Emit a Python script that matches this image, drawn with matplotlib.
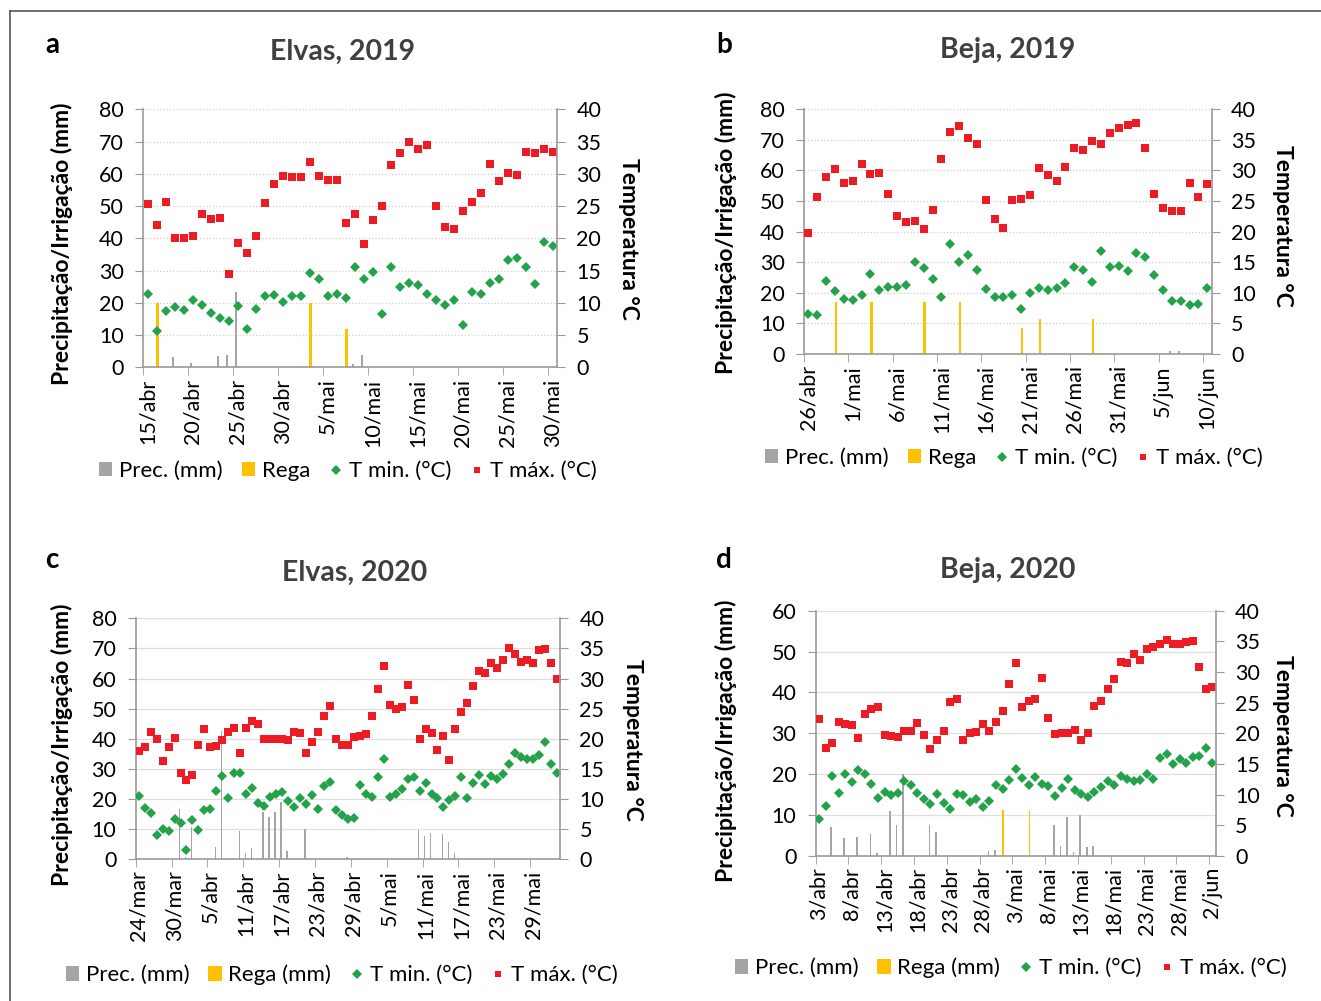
import matplotlib.pyplot as plt
from matplotlib.patches import Patch
from matplotlib.lines import Line2D

plt.rcParams["font.family"] = ["Lato", "DejaVu Sans"]

# ------------------------------------------------------------
# Data
# ------------------------------------------------------------

# --- a: Elvas 2019 (15/abr .. 30/mai)
labels_a = ["15/abr", "20/abr", "25/abr", "30/abr", "5/mai", "10/mai",
            "15/mai", "20/mai", "25/mai", "30/mai"]
tmax_a = [25.3, 22.0, 25.6, 20.1, 20.1, 20.4, 23.7, 23.0, 23.1, 14.4,
          19.2, 17.7, 20.4, 25.5, 28.4, 29.7, 29.5, 29.5, 31.8, 29.7,
          29.1, 29.1, 22.4, 23.7, 19.1, 22.9, 25.0, 31.3, 33.3, 35.0,
          33.9, 34.4, 25.0, 21.8, 21.4, 24.2, 25.7, 27.0, 31.5, 28.9,
          30.2, 29.8, 33.4, 33.2, 33.9, 33.4]
tmin_a = [11.4, 5.7, 8.7, 9.4, 8.9, 10.5, 9.6, 8.4, 7.6, 7.2,
          9.5, 6.0, 9.0, 11.1, 11.2, 10.2, 11.1, 11.1, 14.6, 13.7,
          11.1, 11.3, 10.7, 15.5, 13.7, 14.7, 8.2, 15.5, 12.4, 13.1,
          12.8, 11.4, 10.4, 9.6, 10.4, 6.5, 11.6, 11.3, 13.1, 13.7,
          16.6, 17.0, 15.5, 12.9, 19.5, 18.8]
prec_a = [0, 0, 0, 3.3, 0.3, 1.2, 0, 0, 3.6, 3.9,
          23.4, 0, 0, 0, 0, 0, 0, 0, 0, 0,
          0, 0, 0, 0.9, 3.7, 0, 0, 0, 0, 0,
          0, 0, 0, 0, 0, 0, 0, 0, 0, 0,
          0, 0, 0, 0, 0, 0]
rega_a = [0, 20, 0, 0, 0, 0, 0, 0, 0, 0,
          0, 0, 0, 0, 0, 0, 0, 0, 20, 0,
          0, 0, 12, 0, 0, 0, 0, 0, 0, 0,
          0, 0, 0, 0, 0, 0, 0, 0, 0, 0,
          0, 0, 0, 0, 0, 0]

# --- b: Beja 2019 (26/abr .. 10/jun)
labels_b = ["26/abr", "1/mai", "6/mai", "11/mai", "16/mai", "21/mai",
            "26/mai", "31/mai", "5/jun", "10/jun"]
tmax_b = [19.7, 25.6, 28.9, 30.2, 28.0, 28.2, 31.1, 29.5, 29.6, 26.1,
          22.6, 21.6, 21.8, 20.4, 23.6, 31.9, 36.3, 37.2, 35.3, 34.4,
          25.2, 22.1, 20.6, 25.1, 25.3, 26.0, 30.4, 29.3, 28.3, 30.5,
          33.6, 33.3, 34.8, 34.4, 36.2, 37.0, 37.5, 37.8, 33.6, 26.2,
          23.8, 23.4, 23.4, 28.0, 25.7, 27.8]
tmin_b = [6.5, 6.4, 11.9, 10.3, 9.0, 8.8, 9.7, 13.0, 10.5, 10.9,
          10.9, 11.2, 15.0, 14.1, 12.2, 9.3, 17.9, 15.0, 16.2, 13.8,
          10.6, 9.3, 9.3, 9.7, 7.4, 10.0, 10.8, 10.5, 10.8, 11.6,
          14.2, 13.8, 11.8, 16.8, 14.2, 14.4, 13.6, 16.5, 15.9, 12.9,
          10.4, 8.7, 8.7, 8.0, 8.1, 10.8]
prec_b = [0, 0, 0, 0, 0, 0, 0, 0, 0, 0,
          0, 0, 0.4, 0.4, 0, 0, 0, 0, 0, 0,
          0, 0, 0, 0, 0, 0, 0, 0, 0, 0,
          0, 0, 0, 0, 0, 0, 0, 0, 0, 0,
          0, 0.9, 0.9, 0, 0, 0]
rega_b = [0, 0, 0, 17, 0, 0, 0, 17, 0, 0,
          0, 0, 0, 17, 0, 0, 0, 17, 0, 0,
          0, 0, 0, 0, 8.4, 0, 11.3, 0, 0, 0,
          0, 0, 11.3, 0, 0, 0, 0, 0, 0, 0,
          0, 0, 0, 0, 0, 0]

# --- c: Elvas 2020 (24/mar .. 2/jun)
labels_c = ["24/mar", "30/mar", "5/abr", "11/abr", "17/abr", "23/abr",
            "29/abr", "5/mai", "11/mai", "17/mai", "23/mai", "29/mai"]
tmax_c = [18.0, 18.6, 21.2, 19.9, 16.3, 18.6, 20.2, 14.3, 13.1, 14.0,
          19.0, 21.6, 18.6, 18.8, 19.8, 21.1, 21.8, 17.6, 21.8, 22.9,
          22.5, 20.0, 20.0, 20.0, 19.9, 19.8, 21.2, 20.9, 17.6, 19.4,
          21.2, 23.8, 25.5, 19.9, 18.9, 18.9, 20.3, 20.5, 20.8, 23.8,
          28.3, 32.1, 25.6, 24.9, 25.3, 29.0, 26.5, 20.0, 21.6, 21.0,
          18.1, 20.4, 16.5, 21.7, 24.5, 25.9, 28.7, 31.2, 31.0, 32.5,
          31.7, 33.0, 35.0, 34.1, 32.7, 33.1, 32.5, 34.7, 34.9, 32.5,
          29.9]
tmin_c = [10.5, 8.5, 7.7, 4.1, 5.0, 4.7, 6.7, 6.0, 1.5, 6.6,
          4.8, 8.1, 8.3, 11.4, 13.9, 10.2, 14.4, 14.4, 10.9, 11.8,
          9.4, 8.9, 10.3, 10.8, 11.2, 9.7, 8.7, 10.1, 9.2, 10.6,
          8.4, 12.2, 12.9, 8.2, 7.4, 6.7, 6.9, 12.3, 10.9, 10.3,
          13.7, 16.7, 10.4, 10.9, 11.6, 13.4, 13.7, 11.3, 12.7, 10.9,
          10.1, 8.7, 9.8, 10.5, 13.7, 10.2, 12.6, 14.0, 12.5, 13.9,
          13.3, 14.2, 15.8, 17.6, 17.0, 16.6, 16.7, 17.3, 19.4, 15.8,
          14.3]
prec_c = [0, 0, 0, 0, 0, 0, 0, 16.6, 0.9, 10.8,
          0, 0, 0, 4.2, 42.7, 0.3, 0.3, 9.5, 2.2, 3.8,
          0, 15.8, 14.0, 15.8, 19.1, 2.7, 0, 0, 10.0, 0,
          0, 0, 0, 0, 0, 0.9, 0, 0.3, 0, 0,
          0, 0, 0, 0, 0, 0, 0, 9.7, 7.9, 8.6,
          0, 8.3, 5.6, 2.0, 0, 0, 0, 0, 0, 0,
          0, 0, 0, 0, 0, 0, 0, 0, 0, 0,
          0]
rega_c = [0] * 71

# --- d: Beja 2020 (3/abr .. 2/jun)
labels_d = ["3/abr", "8/abr", "13/abr", "18/abr", "23/abr", "28/abr",
            "3/mai", "8/mai", "13/mai", "18/mai", "23/mai", "28/mai", "2/jun"]
tmax_d = [22.4, 17.6, 18.5, 21.8, 21.5, 21.4, 19.3, 23.2, 24.0, 24.3,
          19.8, 19.5, 19.4, 20.4, 20.4, 21.7, 19.8, 17.4, 18.9, 20.4,
          25.1, 25.6, 18.9, 20.1, 20.2, 21.5, 20.4, 21.8, 23.7, 28.1,
          31.5, 24.3, 25.3, 25.6, 29.1, 22.5, 19.9, 20.1, 20.1, 20.6,
          18.9, 20.1, 24.4, 25.3, 27.2, 28.9, 31.7, 31.5, 33.0, 32.0,
          33.7, 34.0, 34.5, 35.3, 34.6, 34.6, 34.9, 35.1, 30.8, 27.3,
          27.5]
tmin_d = [6.0, 8.2, 13.1, 10.3, 13.4, 12.1, 14.0, 13.3, 11.8, 9.4,
          10.5, 10.0, 10.3, 12.2, 11.5, 10.3, 9.3, 8.4, 10.1, 8.7,
          7.7, 10.1, 9.9, 8.8, 9.3, 8.0, 9.0, 11.5, 10.9, 12.4,
          14.2, 12.8, 11.6, 12.9, 11.8, 11.4, 9.8, 11.1, 12.6, 10.8,
          10.1, 9.7, 10.4, 11.3, 12.3, 11.6, 13.0, 12.5, 12.2, 12.4,
          13.4, 12.6, 15.9, 16.7, 15.0, 15.8, 15.1, 16.2, 16.3, 17.6,
          15.2]
prec_d = [0, 0, 7.0, 0.2, 4.5, 0, 4.6, 0, 5.3, 0.7,
          0, 11.1, 7.7, 20.0, 0, 0, 0, 7.7, 5.8, 0,
          0, 0, 0, 0, 0, 0, 1.3, 1.5, 0, 0,
          0, 0, 0, 0, 0, 0, 7.6, 2.4, 9.5, 1.0,
          10.0, 2.1, 2.4, 0, 0, 0, 0, 0, 0, 0,
          0, 0, 0, 0, 0, 0, 0, 0, 0, 0,
          0]
rega_d = [0] * 28 + [11.2, 0, 0, 0, 11.2] + [0] * 28

# ------------------------------------------------------------
# Style
# ------------------------------------------------------------

W, H = 1321, 1001
GRAY = "#a5a5a5"
GOLD = "#ffc000"
GREEN = "#23a249"
RED = "#ed1c24"
SPINE = "#9a9a9a"
FS = 15.5       # ticks
FS_LEG = 16     # legend
FS_LAB = 16.5   # axis titles


def fx(x):
    return x / W


def fy(y):
    return 1 - y / H


# ------------------------------------------------------------
# One panel: bars on the left axis, temperatures on the right one
# ------------------------------------------------------------

def draw_panel(fig, box, labels, step, prec, rega, tmin, tmax, ymax, dotted):
    left, top, right, bottom = box
    ax = fig.add_axes([fx(left), fy(bottom), (right - left) / W, (bottom - top) / H])
    n = len(tmin)
    days = list(range(n))

    ax.bar([d - 0.17 for d in days], prec, width=0.24, color=GRAY, zorder=2)
    ax.bar([d + 0.1 for d in days], rega, width=0.26, color=GOLD, zorder=2)

    ax.set_xlim(-0.5, n - 0.5)
    ax.set_ylim(0, ymax)
    ax.set_yticks(range(0, ymax + 1, 10))
    ax.grid(axis="y", color="#cfcfcf" if dotted else "#dedede",
            ls=":" if dotted else "-", lw=0.9)
    ax.set_axisbelow(True)

    major = list(range(0, n, step))
    ax.set_xticks(major)
    ax.set_xticklabels(labels[:len(major)], rotation=90)
    ax.set_xticks([m - 0.5 for m in major], minor=True)
    ax.tick_params(axis="x", which="major", length=0, pad=8, labelsize=FS)
    ax.tick_params(axis="x", which="minor", length=6, color=SPINE)
    ax.tick_params(axis="y", length=6, pad=8, color=SPINE, labelsize=FS)

    for s in ["top", "right"]:
        ax.spines[s].set_visible(False)
    for s in ["left", "bottom"]:
        ax.spines[s].set_color(SPINE)
        ax.spines[s].set_linewidth(1.2)

    ax2 = ax.twinx()
    ax2.plot(days, tmin, ls="none", marker="D", ms=5.4, color=GREEN, mew=0)
    ax2.plot(days, tmax, ls="none", marker="s", ms=5.4, color=RED, mew=0)
    ax2.set_ylim(0, 40)
    ax2.set_yticks(range(0, 41, 5))
    ax2.tick_params(axis="y", length=6, pad=8, color=SPINE, labelsize=FS)
    for s in ["top", "left", "bottom"]:
        ax2.spines[s].set_visible(False)
    ax2.spines["right"].set_color(SPINE)
    ax2.spines["right"].set_linewidth(1.2)
    return ax


def add_texts(fig, letter, lpos, title, tpos, ylab_pos, tlab_pos):
    fig.text(fx(lpos[0]), fy(lpos[1]), letter, fontsize=20, fontweight="bold",
             ha="center", va="center")
    fig.text(fx(tpos[0]), fy(tpos[1]), title, fontsize=20.5, fontweight="bold",
             color="#404040", ha="center", va="center")
    fig.text(fx(ylab_pos[0]), fy(ylab_pos[1]), "Precipitação/Irrigação (mm)",
             fontsize=FS_LAB, fontweight="bold", rotation=90, ha="center", va="center")
    fig.text(fx(tlab_pos[0]), fy(tlab_pos[1]), "Temperatura °C",
             fontsize=FS_LAB, fontweight="bold", rotation=-90, ha="center", va="center")


def add_legend(fig, names, center):
    handles = [Patch(facecolor=GRAY), Patch(facecolor=GOLD),
               Line2D([], [], ls="none", marker="D", ms=5, color=GREEN, mew=0),
               Line2D([], [], ls="none", marker="s", ms=4.8, color=RED, mew=0)]
    fig.legend(handles, names, loc="center", bbox_to_anchor=(fx(center[0]), fy(center[1])),
               ncol=4, frameon=False, fontsize=FS_LEG, handlelength=0.6, handleheight=0.6,
               handletextpad=0.3, columnspacing=0.85, borderpad=0)


# ------------------------------------------------------------
# MAIN
# ------------------------------------------------------------

def main():
    fig = plt.figure(figsize=(W / 100, H / 100), dpi=100)

    draw_panel(fig, (143, 109.3, 557, 367.3), labels_a, 5,
               prec_a, rega_a, tmin_a, tmax_a, 80, True)
    draw_panel(fig, (804, 109.3, 1211.7, 354), labels_b, 5,
               prec_b, rega_b, tmin_b, tmax_b, 80, True)
    draw_panel(fig, (135.7, 618.3, 560, 859.3), labels_c, 6,
               prec_c, rega_c, tmin_c, tmax_c, 80, False)
    draw_panel(fig, (815.7, 610.7, 1215.7, 856), labels_d, 5,
               prec_d, rega_d, tmin_d, tmax_d, 60, False)

    add_texts(fig, "a", (52, 45), "Elvas, 2019", (343, 52), (62, 244), (628, 239))
    add_texts(fig, "b", (724, 45), "Beja, 2019", (1008, 50), (726, 233), (1283, 226))
    add_texts(fig, "c", (52, 560), "Elvas, 2020", (355, 573), (62, 745), (632, 740))
    add_texts(fig, "d", (724, 560), "Beja, 2020", (1008, 570), (726, 741), (1283, 736))

    names_19 = ["Prec. (mm)", "Rega", "T min. (°C)", "T máx. (°C)"]
    names_20 = ["Prec. (mm)", "Rega (mm)", "T min. (°C)", "T máx. (°C)"]
    add_legend(fig, names_19, (348, 471))
    add_legend(fig, names_19, (1014, 458))
    add_legend(fig, names_20, (342, 975))
    add_legend(fig, names_20, (1011, 968))

    # thin frame at the top and left edge of the picture
    fig.add_artist(Line2D([fx(9.5), 1], [fy(10.5), fy(10.5)], color="#555555", lw=1.2))
    fig.add_artist(Line2D([fx(9.5), fx(9.5)], [fy(10.5), 0], color="#555555", lw=1.2))

    fig.savefig("out.png", dpi=100)


if __name__ == "__main__":
    main()
